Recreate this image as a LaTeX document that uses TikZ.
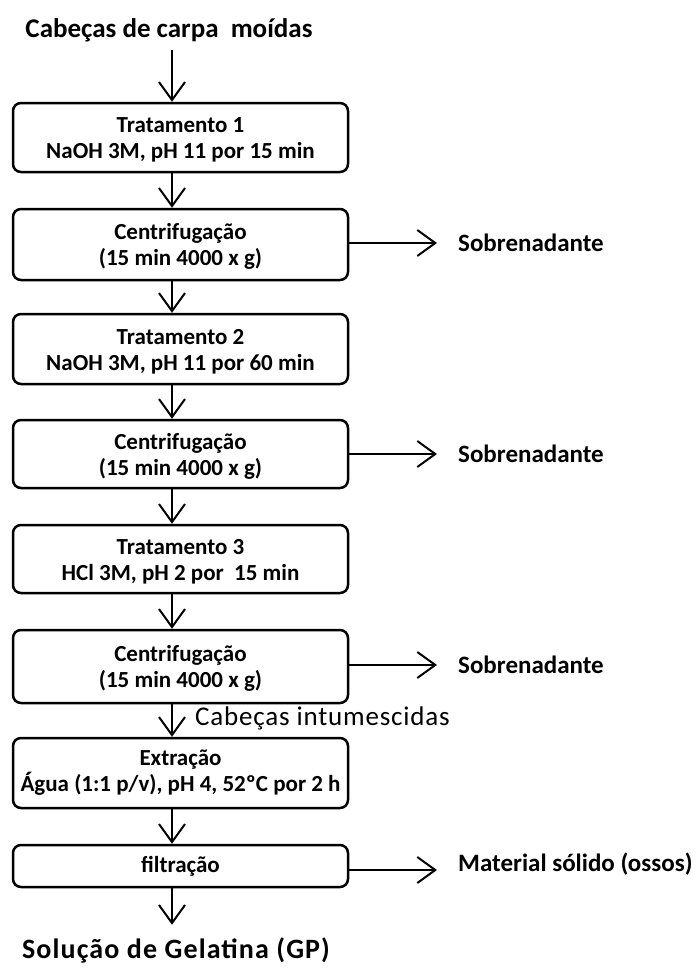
\documentclass[tikz,border=0pt]{standalone}
\usepackage{fontspec}
\setmainfont{Carlito}
\usetikzlibrary{arrows.meta}
\begin{document}
\begin{tikzpicture}[x=1pt,y=-1pt,
  box/.style={draw, line width=2.5pt, rounded corners=8pt, minimum width=335pt,
    font=\bfseries\fontsize{23}{26}\selectfont, align=center, inner sep=0pt},
  flow/.style={line width=2pt, -{Straight Barb[length=18pt,width=26pt,line width=2pt]}},
  side/.style={font=\bfseries\fontsize{25}{29}\selectfont, anchor=west, inner sep=0pt}
]
\useasboundingbox (0,0) rectangle (699,972);
\coordinate (ax) at (172,0);
\node[font=\bfseries\fontsize{27}{32}\selectfont] (t) at (169,30) {Cabeças de carpa\ \ moídas};
\node[box, minimum height=69pt] (b1) at (180.5,137.5) {\rule{0pt}{20pt}Tratamento 1\\NaOH 3M, pH 11 por 15 min};
\node[box, minimum height=71pt] (b2) at (180.5,244.5) {\rule{0pt}{20pt}Centrifugação\\(15 min 4000 x g)};
\node[box, minimum height=70pt] (b3) at (180.5,349) {\rule{0pt}{20pt}Tratamento 2\\NaOH 3M, pH 11 por 60 min};
\node[box, minimum height=68pt] (b4) at (180.5,454) {\rule{0pt}{20pt}Centrifugação\\(15 min 4000 x g)};
\node[box, minimum height=68pt] (b5) at (180.5,559) {\rule{0pt}{20pt}Tratamento 3\\HCl 3M, pH 2 por\ \ 15 min};
\node[box, minimum height=73pt] (b6) at (180.5,666.5) {\rule{0pt}{20pt}Centrifugação\\(15 min 4000 x g)};
\node[box, minimum height=70pt] (b7) at (180.5,773) {Extração\\Água (1:1 p/v), pH 4, 52ºC por 2 h};
\node[box, minimum height=42pt] (b8) at (180.5,866) {filtração};
\node[font=\bfseries\fontsize{28}{32}\selectfont\addfontfeatures{LetterSpace=4}] (f) at (176,950) {Solução de Gelatina (GP)};
\node[font=\fontsize{27}{31}\selectfont\addfontfeatures{LetterSpace=3}, anchor=west, inner sep=0pt] (ci) at (195,718) {Cabeças intumescidas};
\node[side] (s1) at (458,243) {Sobrenadante};
\node[side] (s2) at (458,454) {Sobrenadante};
\node[side] (s3) at (458,665) {Sobrenadante};
\node[side] (s4) at (458,864) {Material sólido (ossos)};
\coordinate (m4) at (458,870);
\draw[flow] (ax |- 0,50) -- (b1.north -| ax);
\draw[flow] (b1.south -| ax) -- (b2.north -| ax);
\draw[flow] (b2.south -| ax) -- (b3.north -| ax);
\draw[flow] (b3.south -| ax) -- (b4.north -| ax);
\draw[flow] (b4.south -| ax) -- (b5.north -| ax);
\draw[flow] (b5.south -| ax) -- (b6.north -| ax);
\draw[flow] (b6.south -| ax) -- (b7.north -| ax);
\draw[flow] (b7.south -| ax) -- (b8.north -| ax);
\draw[flow, shorten >=9pt] (b8.south -| ax) -- (f.north -| ax);
\draw[flow, shorten >=21pt] (b2.east |- s1.west) -- (s1.west);
\draw[flow, shorten >=21pt] (b4.east |- s2.west) -- (s2.west);
\draw[flow, shorten >=21pt] (b6.east |- s3.west) -- (s3.west);
\draw[flow, shorten >=21pt] (b8.east |- m4) -- (m4);
\end{tikzpicture}
\end{document}
